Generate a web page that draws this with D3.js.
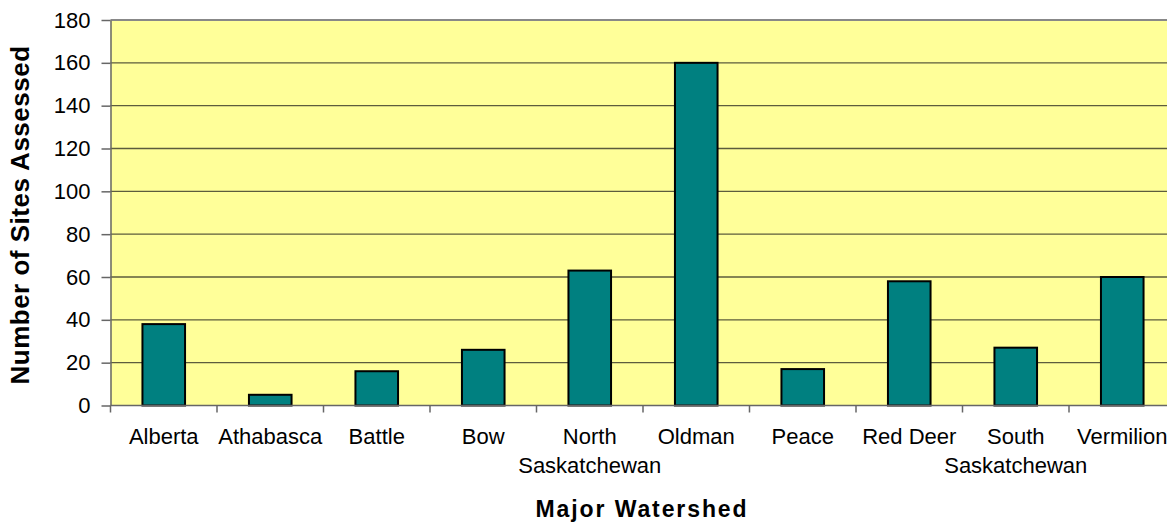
<!DOCTYPE html>
<html>
<head>
<meta charset="utf-8">
<script src="https://cdn.jsdelivr.net/npm/d3@7"></script>
<style>
  html, body { margin: 0; padding: 0; background: #fff; }
  text { font-family: "Liberation Sans", Arial, sans-serif; fill: #000; }
</style>
</head>
<body>
<div id="chart"></div>
<script>
// data ('\n' marks the label line break)
const watersheds = ['Alberta', 'Athabasca', 'Battle', 'Bow', 'North\nSaskatchewan',
  'Oldman', 'Peace', 'Red Deer', 'South\nSaskatchewan', 'Vermilion'];
const sitesAssessed = [38, 5, 16, 26, 63, 160, 17, 58, 27, 60];
const yTicks = [0, 20, 40, 60, 80, 100, 120, 140, 160, 180];

const config = {
  width: 1167,
  height: 527,
  plot: { left: 110.5, right: 1175.5, top: 20, bottom: 405.5 },
  xAxisTitle: 'Major Watershed',
  yAxisTitle: 'Number of Sites Assessed'
};

const data = watersheds.map((name, i) => ({ name: name, value: sitesAssessed[i] }));

const svg = d3.select('#chart')
  .append('svg')
  .attr('width', config.width)
  .attr('height', config.height);

const p = config.plot;

const xScale = d3.scaleBand()
  .domain(watersheds)
  .range([p.left, p.right])
  .paddingInner(0.6)
  .paddingOuter(0.3);

const yScale = d3.scaleLinear()
  .domain([0, 180])
  .range([p.bottom, p.top]);

// plot background
svg.append('rect')
  .attr('x', p.left)
  .attr('y', p.top)
  .attr('width', p.right - p.left)
  .attr('height', p.bottom - p.top)
  .attr('fill', '#FFFF99');

// gridlines
svg.append('g')
  .selectAll('line')
  .data(yTicks.filter(t => t > 0 && t < 180))
  .enter()
  .append('line')
  .attr('x1', p.left)
  .attr('x2', p.right)
  .attr('y1', d => yScale(d))
  .attr('y2', d => yScale(d))
  .attr('stroke', '#5c5c3d')
  .attr('stroke-width', 1.3);

// top border
svg.append('line')
  .attr('x1', p.left).attr('x2', p.right)
  .attr('y1', yScale(180)).attr('y2', yScale(180))
  .attr('stroke', '#888')
  .attr('stroke-width', 2);

// bars
svg.append('g')
  .selectAll('rect')
  .data(data)
  .enter()
  .append('rect')
  .attr('x', d => xScale(d.name))
  .attr('y', d => yScale(d.value))
  .attr('width', xScale.bandwidth())
  .attr('height', d => yScale(0) - yScale(d.value))
  .attr('fill', '#008080')
  .attr('stroke', '#000')
  .attr('stroke-width', 2);

// y axis
const yAxis = svg.append('g')
  .attr('transform', `translate(${p.left},0)`)
  .call(d3.axisLeft(yScale).tickValues(yTicks).tickSize(9).tickPadding(11).tickSizeOuter(0));
yAxis.select('.domain').attr('stroke', '#666').attr('stroke-width', 1.5);
yAxis.selectAll('.tick line').attr('stroke', '#666').attr('stroke-width', 1.5);
yAxis.selectAll('.tick text')
  .attr('font-size', 22)
  .attr('font-family', '"Liberation Sans", Arial, sans-serif')
  .attr('fill', '#000');

// x axis: ticks sit between the categories
const step = xScale.step();
const xBoundaries = d3.range(watersheds.length + 1).map(i => p.left + i * step);
const xAxis = svg.append('g');
xAxis.append('line')
  .attr('x1', p.left).attr('x2', p.right)
  .attr('y1', p.bottom).attr('y2', p.bottom)
  .attr('stroke', '#666')
  .attr('stroke-width', 1.5);
xAxis.selectAll('line.tick')
  .data(xBoundaries)
  .enter()
  .append('line')
  .attr('class', 'tick')
  .attr('x1', d => d).attr('x2', d => d)
  .attr('y1', p.bottom).attr('y2', p.bottom + 7)
  .attr('stroke', '#666')
  .attr('stroke-width', 1.5);

const labels = xAxis.selectAll('text.label')
  .data(data)
  .enter()
  .append('text')
  .attr('class', 'label')
  .attr('text-anchor', 'middle')
  .attr('font-size', 22)
  .attr('x', d => xScale(d.name) + xScale.bandwidth() / 2)
  .attr('y', 444);
labels.each(function (d) {
  const t = d3.select(this);
  d.name.split('\n').forEach((w, i) => {
    t.append('tspan')
      .attr('x', xScale(d.name) + xScale.bandwidth() / 2)
      .attr('dy', i === 0 ? 0 : 29)
      .text(w);
  });
});

// axis titles
svg.append('text')
  .attr('text-anchor', 'middle')
  .attr('font-size', 23)
  .attr('font-weight', 'bold')
  .attr('letter-spacing', 1.9)
  .attr('x', 642)
  .attr('y', 517)
  .text(config.xAxisTitle);

svg.append('text')
  .attr('text-anchor', 'middle')
  .attr('font-size', 26)
  .attr('font-weight', 'bold')
  .attr('letter-spacing', 0.5)
  .attr('transform', 'translate(29,215) rotate(-90)')
  .text(config.yAxisTitle);
</script>
</body>
</html>
